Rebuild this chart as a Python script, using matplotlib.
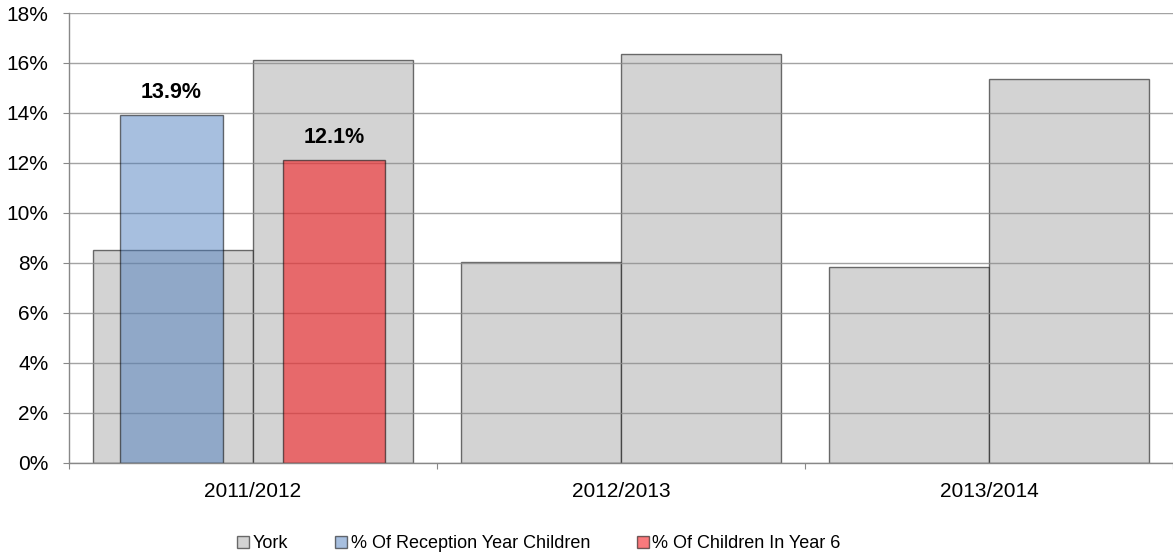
import numpy as np
import matplotlib
matplotlib.use("Agg")
import matplotlib.pyplot as plt
from matplotlib.patches import Patch

plt.rcParams['font.family'] = ['Liberation Sans', 'DejaVu Sans']

years = ["2011/2012", "2012/2013", "2013/2014"]
york_reception = [8.52, 8.04, 7.84]
york_year6 = [16.12, 16.36, 15.36]
reception = [13.9]
year6 = [12.1]
yticks = [0, 2, 4, 6, 8, 10, 12, 14, 16, 18]

grey = (211/255, 211/255, 211/255)
blue = (72/255, 122/255, 188/255, 0.48)
red = (246/255, 34/255, 38/255, 0.6)
edge = (0, 0, 0, 0.55)

fig = plt.figure(figsize=(11.73, 5.58), dpi=100)
ax = fig.add_axes([69/1173, 0.1703, 1 - 69/1173, 0.9767 - 0.1703])

x = np.arange(len(years))
w = 0.4335
ax.bar(x - w/2, york_reception, w, color=grey, edgecolor=edge, linewidth=1, zorder=2)
ax.bar(x + w/2, york_year6, w, color=grey, edgecolor=edge, linewidth=1, zorder=2)

nw = 0.279
xr = x[:len(reception)]
b1 = ax.bar(xr - w/2 - 0.005, reception, nw, color=blue, edgecolor=edge, linewidth=1, zorder=3)
b2 = ax.bar(xr + w/2 + 0.003, year6, nw, color=red, edgecolor=edge, linewidth=1, zorder=3)

for bars, vals in [(b1, reception), (b2, year6)]:
    for b, v in zip(bars, vals):
        ax.annotate("%.1f%%" % v, (b.get_x() + b.get_width()/2, v),
                    xytext=(0, 9), textcoords="offset points",
                    ha="center", va="bottom", fontsize=15.5, fontweight="bold")

ax.set_ylim(0, 18)
ax.set_xlim(-0.5, -0.5 + (1173 - 69) / 369.3)
ax.set_yticks(yticks)
ax.set_yticklabels(["%d%%" % t for t in yticks], fontsize=15)
ax.yaxis.grid(True, color="#8c8c8c", linewidth=1, alpha=0.8)
ax.set_axisbelow(False)
for gl in ax.get_ygridlines():
    gl.set_zorder(4)

ax.set_xticks([-0.5, 0.5, 1.5, 2.5])
ax.set_xticklabels([])
ax.set_xticks(x, minor=True)
ax.set_xticklabels(years, minor=True, fontsize=15)
ax.tick_params(axis="x", which="minor", length=0, pad=14)
ax.tick_params(axis="x", which="major", length=4.3, color="#888888")
ax.tick_params(axis="y", length=4.3, color="#888888", pad=10.5)

for s in ["top", "right"]:
    ax.spines[s].set_visible(False)
for s in ["left", "bottom"]:
    ax.spines[s].set_color("#888888")
    ax.spines[s].set_linewidth(1)
    ax.spines[s].set_zorder(5)

handles = [
    Patch(facecolor=grey, edgecolor=edge, label="York"),
    Patch(facecolor=blue, edgecolor=edge, label="% Of Reception Year Children"),
    Patch(facecolor=red, edgecolor=edge, label="% Of Children In Year 6"),
]
fig.legend(handles=handles, loc="center", bbox_to_anchor=(539/1173, 1 - 544/558),
           ncol=3, frameon=False, fontsize=13, handlelength=0.65, handleheight=0.65,
           handletextpad=0.2, columnspacing=2.6)

fig.savefig("out.png", dpi=100)
